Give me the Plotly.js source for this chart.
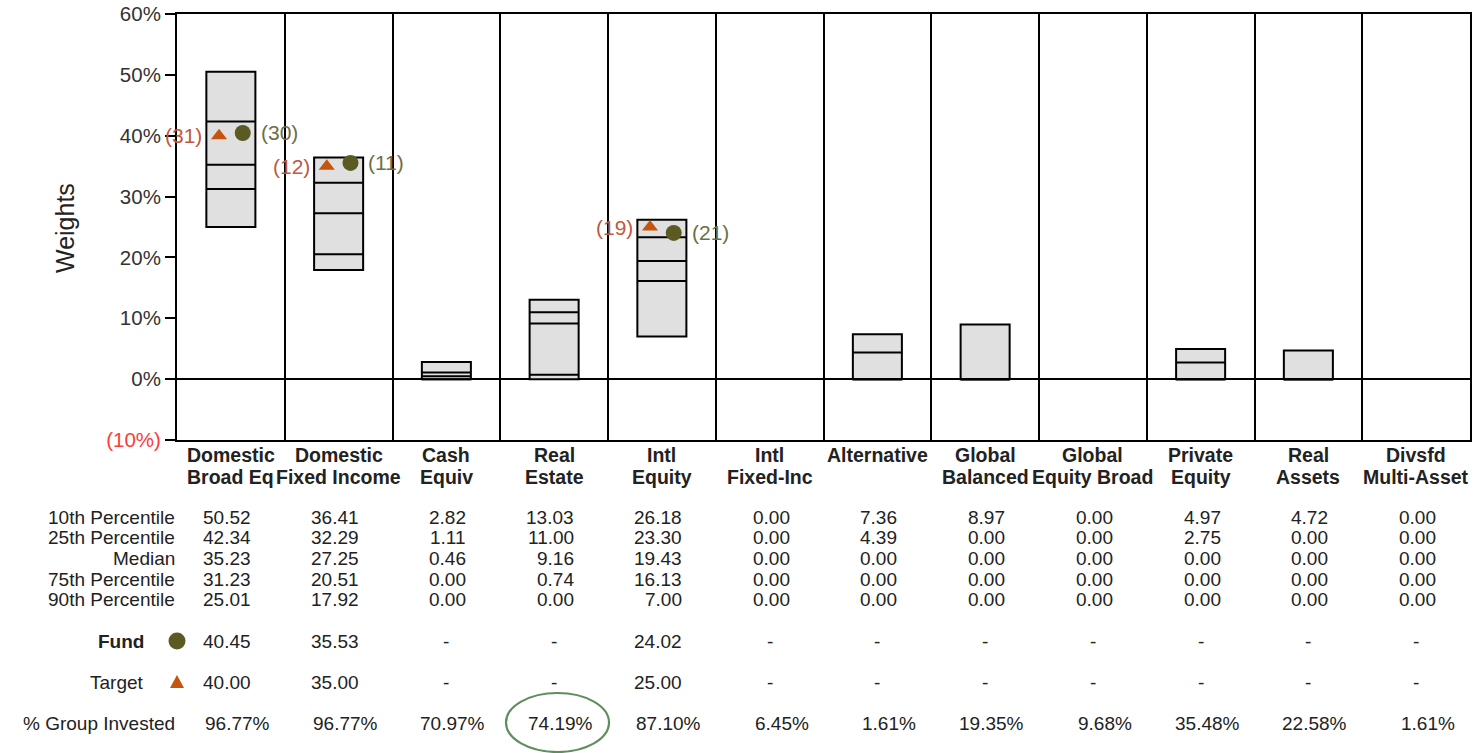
<!DOCTYPE html>
<html>
<head>
<meta charset="utf-8">
<script src="https://cdn.plot.ly/plotly-3.0.1.min.js"></script>
<style>html,body{margin:0;padding:0;background:#fff;}#chart{width:1480px;height:753px;}</style>
</head>
<body>
<div id="chart"></div>
<script>
// ---------- DATA ----------
const catLine1 = ["Domestic","Domestic","Cash","Real","Intl","Intl","Alternative","Global","Global","Private","Real","Divsfd"];
const catLine2 = ["Broad Eq","Fixed Income","Equiv","Estate","Equity","Fixed-Inc","","Balanced","Equity Broad","Equity","Assets","Multi-Asset"];
const p10 = [50.52, 36.41, 2.82, 13.03, 26.18, 0.00, 7.36, 8.97, 0.00, 4.97, 4.72, 0.00];
const p25 = [42.34, 32.29, 1.11, 11.00, 23.30, 0.00, 4.39, 0.00, 0.00, 2.75, 0.00, 0.00];
const med = [35.23, 27.25, 0.46, 9.16, 19.43, 0.00, 0.00, 0.00, 0.00, 0.00, 0.00, 0.00];
const p75 = [31.23, 20.51, 0.00, 0.74, 16.13, 0.00, 0.00, 0.00, 0.00, 0.00, 0.00, 0.00];
const p90 = [25.01, 17.92, 0.00, 0.00, 7.00, 0.00, 0.00, 0.00, 0.00, 0.00, 0.00, 0.00];
const fund = [40.45, 35.53, null, null, 24.02, null, null, null, null, null, null, null];
const target = [40.00, 35.00, null, null, 25.00, null, null, null, null, null, null, null];
const fundRank = [30, 11, null, null, 21, null, null, null, null, null, null, null];
const targetRank = [31, 12, null, null, 19, null, null, null, null, null, null, null];
const groupInvested = [96.77, 96.77, 70.97, 74.19, 87.10, 6.45, 1.61, 19.35, 9.68, 35.48, 22.58, 1.61];
const rowLabels = ["10th Percentile","25th Percentile","Median","75th Percentile","90th Percentile"];
const yTickVals = [-10, 0, 10, 20, 30, 40, 50, 60];
const yTickText = ["<span style='color:#ff3b3b'>(10%)</span>","0%","10%","20%","30%","40%","50%","60%"];

// ---------- STYLE / LAYOUT HELPERS ----------
const FONT = "Liberation Sans, Arial, Helvetica, sans-serif";
const TXT = "#222222";
const FUNDC = "#5a5a22";
const TGTC = "#c4540e";
const BOXW = 0.455;
const OFF = 0.11;
const L = 177, R = 1470, T = 14, B = 440;
const px = p => (p - L) / (R - L);
const py = p => (B - p) / (B - T);

const idx = catLine1.map((_, i) => i);
const hasBox = idx.map(i => p10[i] > p90[i]);

const traces = [];
// boxes (10th to 90th percentile)
traces.push({
  type: "bar", x: idx,
  base: idx.map(i => hasBox[i] ? p90[i] : null),
  y: idx.map(i => hasBox[i] ? p10[i] - p90[i] : null),
  width: BOXW,
  marker: {color: "#e0e0e0", line: {color: "#000", width: 2}},
  hoverinfo: "skip", showlegend: false
});
// inner lines: 25th, median, 75th
const lx = [], ly = [];
idx.forEach(i => {
  if (!hasBox[i]) return;
  [p25[i], med[i], p75[i]].forEach(v => {
    lx.push(i - BOXW / 2, i + BOXW / 2, null);
    ly.push(v, v, null);
  });
});
traces.push({type: "scatter", mode: "lines", x: lx, y: ly, line: {color: "#000", width: 2}, hoverinfo: "skip", showlegend: false});
// target & fund markers
traces.push({type: "scatter", mode: "markers", x: idx.map(i => i - OFF), y: target,
  marker: {symbol: "triangle-up", size: 14, color: TGTC}, showlegend: false, cliponaxis: false});
traces.push({type: "scatter", mode: "markers", x: idx.map(i => i + OFF), y: fund,
  marker: {symbol: "circle", size: 16, color: FUNDC}, showlegend: false, cliponaxis: false});

const ann = [];
// rank labels
idx.forEach(i => {
  if (target[i] != null) ann.push({x: i - OFF, y: target[i], xref: "x", yref: "y", text: "(" + targetRank[i] + ")",
    xanchor: "right", yanchor: "middle", xshift: -15, showarrow: false, font: {family: FONT, size: 21, color: "#c0583f"}});
  if (fund[i] != null) ann.push({x: i + OFF, y: fund[i], xref: "x", yref: "y", text: "(" + fundRank[i] + ")",
    xanchor: "left", yanchor: "middle", xshift: 16, showarrow: false, font: {family: FONT, size: 21, color: "#6e6e45"}});
});
// category labels
idx.forEach(i => {
  ann.push({x: i, y: py(454.5), xref: "x", yref: "paper", text: "<b>" + catLine1[i] + "</b>", showarrow: false,
    xanchor: "center", yanchor: "middle", font: {family: FONT, size: 19.5, color: TXT}});
  if (catLine2[i]) ann.push({x: i, y: py(476.5), xref: "x", yref: "paper", text: "<b>" + catLine2[i] + "</b>", showarrow: false,
    xanchor: "center", yanchor: "middle", font: {family: FONT, size: 19.5, color: TXT}});
});
// table
const rowY = [517, 537.5, 558, 579, 599.5];
const series = [p10, p25, med, p75, p90];
const tf = {family: FONT, size: 19, color: TXT};
rowLabels.forEach((lab, r) => {
  ann.push({x: px(177), y: py(rowY[r]), xref: "paper", yref: "paper", text: lab, showarrow: false, xanchor: "right", yanchor: "middle", font: tf});
  idx.forEach(i => ann.push({x: i + 0.205, y: py(rowY[r]), xref: "x", yref: "paper", text: series[r][i].toFixed(2),
    showarrow: false, xanchor: "right", yanchor: "middle", font: tf}));
});
ann.push({x: px(146), y: py(641), xref: "paper", yref: "paper", text: "<b>Fund</b>", showarrow: false, xanchor: "right", yanchor: "middle", font: tf});
ann.push({x: px(146), y: py(682), xref: "paper", yref: "paper", text: "Target", showarrow: false, xanchor: "right", yanchor: "middle", font: tf});
ann.push({x: px(177), y: py(723), xref: "paper", yref: "paper", text: "% Group Invested", showarrow: false, xanchor: "right", yanchor: "middle", font: tf});
idx.forEach(i => {
  ann.push(fund[i] != null
    ? {x: i + 0.205, y: py(641), xref: "x", yref: "paper", text: fund[i].toFixed(2), showarrow: false, xanchor: "right", yanchor: "middle", font: tf}
    : {x: i, y: py(641), xref: "x", yref: "paper", text: "-", showarrow: false, xanchor: "center", yanchor: "middle", font: tf});
  ann.push(target[i] != null
    ? {x: i + 0.205, y: py(682), xref: "x", yref: "paper", text: target[i].toFixed(2), showarrow: false, xanchor: "right", yanchor: "middle", font: tf}
    : {x: i, y: py(682), xref: "x", yref: "paper", text: "-", showarrow: false, xanchor: "center", yanchor: "middle", font: tf});
  ann.push({x: i + 0.38, y: py(723), xref: "x", yref: "paper", text: groupInvested[i].toFixed(2) + "%", showarrow: false, xanchor: "right", yanchor: "middle", font: tf});
});
// y title
ann.push({x: px(65), y: py(228), xref: "paper", yref: "paper", text: "Weights", textangle: -90, showarrow: false,
  xanchor: "center", yanchor: "middle", font: {family: FONT, size: 25, color: TXT}});

const shapes = [
  // fund marker in table
  {type: "circle", xref: "paper", yref: "paper", xsizemode: "pixel", ysizemode: "pixel",
   xanchor: px(177), yanchor: py(641), x0: -8.5, x1: 8.5, y0: -8.5, y1: 8.5, fillcolor: FUNDC, line: {width: 0}},
  // target marker in table
  {type: "path", xref: "paper", yref: "paper", xsizemode: "pixel", ysizemode: "pixel",
   xanchor: px(177), yanchor: py(682), path: "M-7,-6 L7,-6 L0,7 Z", fillcolor: TGTC, line: {width: 0}},
  // highlight ellipse
  {type: "circle", xref: "paper", yref: "paper", x0: px(506), x1: px(609), y0: py(752), y1: py(693),
   line: {color: "#5e8e5e", width: 2.2}, fillcolor: "rgba(0,0,0,0)"}
];

const layout = {
  width: 1480, height: 753,
  margin: {l: L, r: 1480 - R, t: T, b: 753 - B, pad: 0},
  paper_bgcolor: "#fff", plot_bgcolor: "#fff",
  showlegend: false, barmode: "overlay",
  xaxis: {range: [-0.5, 11.5], tickvals: [0.5,1.5,2.5,3.5,4.5,5.5,6.5,7.5,8.5,9.5,10.5], showticklabels: false,
    ticks: "", showgrid: true, gridcolor: "#000", gridwidth: 2, zeroline: false,
    showline: true, mirror: true, linecolor: "#000", linewidth: 2, fixedrange: true},
  yaxis: {range: [-10, 60], tickvals: yTickVals, ticktext: yTickText, ticks: "outside", ticklen: 10, tickwidth: 2, tickcolor: "#000",
    showgrid: false, zeroline: true, zerolinecolor: "#000", zerolinewidth: 2,
    showline: true, mirror: true, linecolor: "#000", linewidth: 2,
    tickfont: {family: FONT, size: 20.5, color: "#333"}, fixedrange: true},
  annotations: ann, shapes: shapes
};

Plotly.newPlot("chart", traces, layout, {displayModeBar: false, staticPlot: true});
</script>
</body>
</html>
